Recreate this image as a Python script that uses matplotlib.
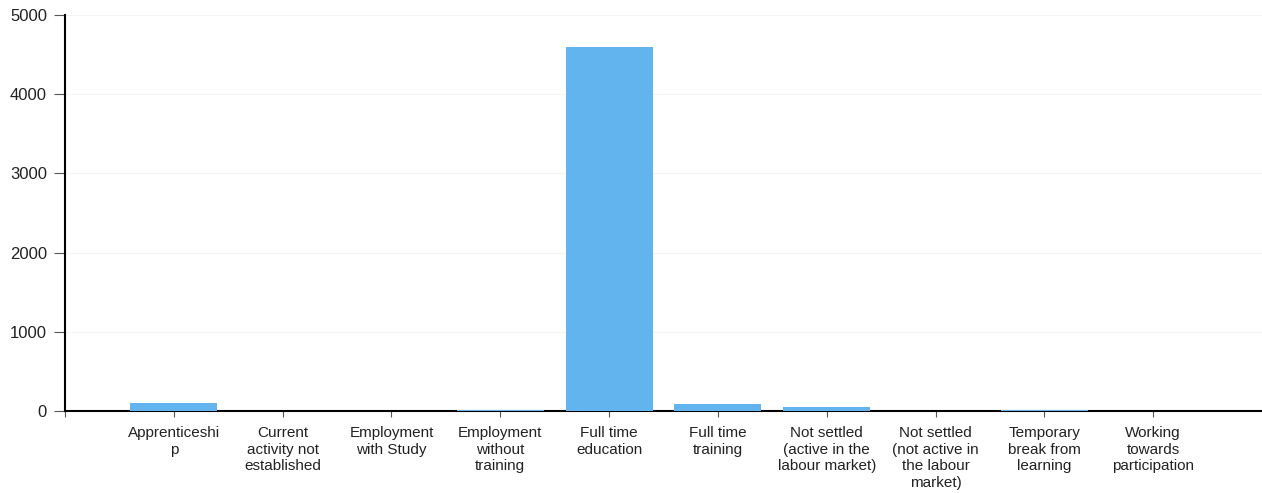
import matplotlib
matplotlib.use("Agg")
import matplotlib.pyplot as plt

categories = [
    "Apprenticeshi\np",
    "Current\nactivity not\nestablished",
    "Employment\nwith Study",
    "Employment\nwithout\ntraining",
    "Full time\neducation",
    "Full time\ntraining",
    "Not settled\n(active in the\nlabour market)",
    "Not settled\n(not active in\nthe labour\nmarket)",
    "Temporary\nbreak from\nlearning",
    "Working\ntowards\nparticipation",
]
values = [100, 2, 6, 15, 4600, 90, 45, 5, 15, 5]
yticks = [0, 1000, 2000, 3000, 4000, 5000]

plt.rcParams['font.family'] = ['Liberation Sans', 'DejaVu Sans']

fig = plt.figure(figsize=(12.62, 4.93), dpi=100)
ax = fig.add_axes([65/1262, 1-411/493, 1-65/1262, (411-15)/493])

x = list(range(len(categories)))
ax.bar(x, values, width=0.8, color="#62B4EE", zorder=3)

ax.set_xlim(-1, len(categories))
ax.set_ylim(0, 5000)
ax.set_yticks(yticks)
ax.set_yticklabels([str(v) for v in yticks], fontsize=12, color="#222222")
ax.set_xticks([-1] + x)
ax.set_xticklabels([""] + categories, fontsize=11, linespacing=1.22, color="#222222")

ax.grid(axis="y", color="#f4f4f4", linewidth=0.8, zorder=0)
for s in ["top", "right"]:
    ax.spines[s].set_visible(False)
ax.spines["left"].set_linewidth(1.5)
ax.spines["bottom"].set_linewidth(1.5)
ax.tick_params(axis="y", length=8, width=0.8, color="#555555", pad=5)
ax.tick_params(axis="x", length=4, width=0.8, color="#555555", pad=7)

fig.savefig("out.png", dpi=100)
